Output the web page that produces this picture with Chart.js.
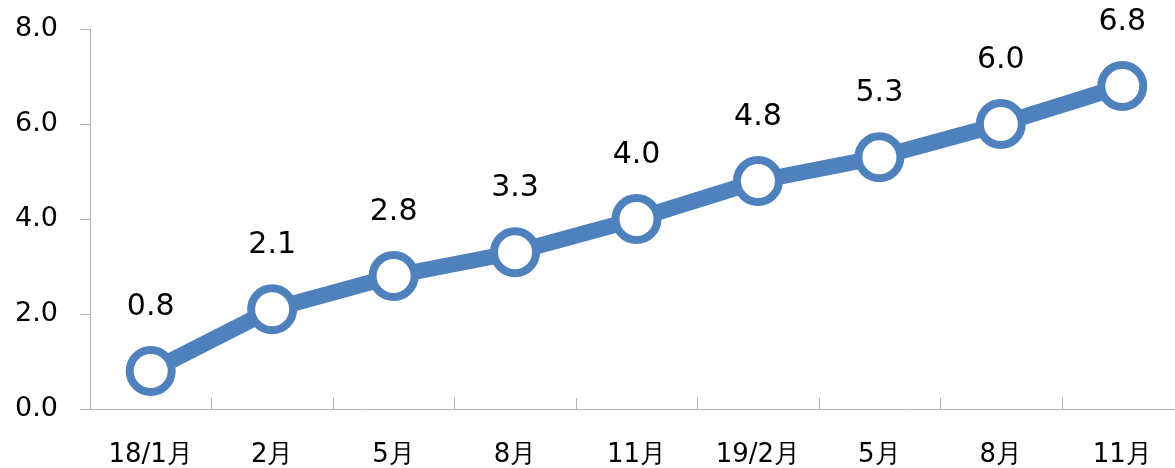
<!DOCTYPE html>
<html>
<head>
<meta charset="utf-8">
<script src="https://cdn.jsdelivr.net/npm/chart.js@4"></script>
<style>
  body { margin: 0; background: #fff; overflow: hidden; }
  canvas { display: block; }
</style>
</head>
<body>
<canvas id="lineChart" width="1175" height="468"></canvas>
<script>
const months = ['18/1月', '2月', '5月', '8月', '11月', '19/2月', '5月', '8月', '11月'];
const values = [0.8, 2.1, 2.8, 3.3, 4.0, 4.8, 5.3, 6.0, 6.8];
const yTicks = [0, 2, 4, 6, 8];

const axisGray = '#b3b3b3';
const blue = '#4f81bd';

// the original plot area runs a little past the right edge of the picture
const widenArea = {
  id: 'widenArea',
  afterLayout(chart) {
    const x = chart.scales.x;
    x.right += 11;
    x.width += 11;
    x.configure();
    chart.chartArea.right = x.right;
    chart.chartArea.width = x.right - chart.chartArea.left;
  }
};

// labels above each point
const valueLabels = {
  id: 'valueLabels',
  afterDatasetsDraw(chart) {
    const ctx = chart.ctx;
    const meta = chart.getDatasetMeta(0);
    ctx.save();
    ctx.font = '30px "DejaVu Sans"';
    ctx.fillStyle = '#000';
    ctx.textAlign = 'center';
    ctx.textBaseline = 'middle';
    meta.data.forEach((pt, i) => {
      ctx.fillText(values[i].toFixed(1), pt.x, pt.y - 64);
    });
    ctx.restore();
  }
};

// small tick marks between categories, pointing up from the x axis
const innerTicks = {
  id: 'innerTicks',
  beforeDatasetsDraw(chart) {
    const x = chart.scales.x;
    const ctx = chart.ctx;
    const step = x.width / months.length;
    ctx.save();
    ctx.strokeStyle = axisGray;
    ctx.lineWidth = 1;
    for (let i = 1; i <= months.length; i++) {
      const px = Math.round(x.left + i * step) + 0.5;
      ctx.beginPath();
      ctx.moveTo(px, x.top);
      ctx.lineTo(px, x.top - 11);
      ctx.stroke();
    }
    ctx.restore();
  }
};

new Chart(document.getElementById('lineChart'), {
  type: 'line',
  data: {
    labels: months,
    datasets: [{
      data: values,
      borderColor: blue,
      borderWidth: 16,
      pointRadius: 21,
      pointHoverRadius: 21,
      pointBorderWidth: 8,
      pointBackgroundColor: '#fff',
      pointBorderColor: blue,
      tension: 0,
      clip: false
    }]
  },
  options: {
    responsive: false,
    animation: false,
    layout: { autoPadding: false, padding: { top: 29, right: 3, left: 0, bottom: 0 } },
    plugins: {
      legend: { display: false },
      tooltip: { enabled: false }
    },
    scales: {
      x: {
        offset: true,
        grid: { display: false, drawTicks: false },
        border: { display: true, color: axisGray, width: 1 },
        ticks: {
          color: '#000',
          font: { family: '"DejaVu Sans"', size: 26 },
          padding: 31,
          maxRotation: 0,
          autoSkip: false
        },
        afterFit(scale) {
          scale.height = 59;
          scale.paddingLeft = 0;
          scale.paddingRight = 0;
        }
      },
      y: {
        min: 0,
        max: 8,
        afterBuildTicks(scale) { scale.ticks = yTicks.map(v => ({ value: v })); },
        grid: { drawOnChartArea: false, tickLength: 10, color: axisGray },
        border: { display: true, color: axisGray, width: 1 },
        ticks: {
          color: '#000',
          font: { family: '"DejaVu Sans"', size: 27 },
          padding: 22,
          callback: v => v.toFixed(1)
        },
        afterFit(scale) {
          scale.width = 90;
          scale.paddingTop = 0;
          scale.paddingBottom = 0;
        }
      }
    }
  },
  plugins: [widenArea, valueLabels, innerTicks]
});
</script>
</body>
</html>
